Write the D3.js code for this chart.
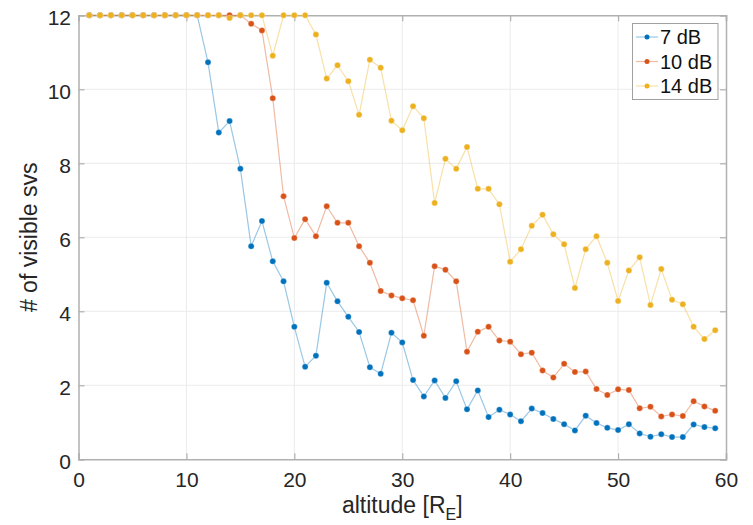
<!DOCTYPE html>
<html><head><meta charset="utf-8">
<script src="https://cdn.jsdelivr.net/npm/d3@7"></script>
<style>body{margin:0;background:#fff}svg{display:block}text{font-family:"Liberation Sans",Arial,sans-serif}</style>
</head><body><svg id="c" width="753" height="525"></svg>
<script>
const altitudes = d3.range(1, 60);
const db7 = [12,12,12,12,12,12,12,12,12,12,12,10.73,8.83,9.14,7.85,5.76,6.44,5.35,4.81,3.58,2.50,2.80,4.77,4.27,3.85,3.44,2.49,2.31,3.42,3.16,2.14,1.70,2.13,1.66,2.11,1.35,1.86,1.14,1.34,1.21,1.03,1.37,1.25,1.09,0.95,0.78,1.18,0.98,0.85,0.79,0.95,0.70,0.61,0.68,0.60,0.60,0.94,0.87,0.84];
const db10 = [12,12,12,12,12,12,12,12,12,12,12,12,12,12,12,11.77,11.59,9.76,7.11,5.98,6.49,6.03,6.84,6.39,6.39,5.76,5.31,4.55,4.43,4.35,4.30,3.34,5.22,5.12,4.81,2.91,3.45,3.58,3.21,3.18,2.84,2.88,2.40,2.21,2.58,2.36,2.37,1.90,1.74,1.89,1.87,1.38,1.42,1.16,1.21,1.17,1.57,1.43,1.31];
const db14 = [12,12,12,12,12,12,12,12,12,12,12,12,12,11.93,12,12,12,10.91,12,12,12,11.48,10.29,10.65,10.22,9.31,10.80,10.58,9.15,8.89,9.54,9.22,6.93,8.12,7.85,8.44,7.31,7.31,6.89,5.34,5.68,6.31,6.61,6.08,5.81,4.63,5.68,6.03,5.31,4.28,5.10,5.46,4.17,5.14,4.31,4.19,3.58,3.25,3.49];
const seriesNames = ["7 dB","10 dB","14 dB"];
const seriesColors = ["#0072BD","#D95319","#EDB120"];
const xTicks = [0,10,20,30,40,50,60];
const yTicks = [0,2,4,6,8,10,12];

const svg = d3.select("#c");
const L = 78.5, R = 726, T = 15.3, B = 459.3;
const x = d3.scaleLinear().domain([0,60]).range([L,R]);
const y = d3.scaleLinear().domain([0,12]).range([B,T]);
const axisCol = "#b0b0b0";

// grid
svg.append("g").selectAll("line").data(xTicks.slice(1,-1)).join("line")
  .attr("x1",d=>x(d)).attr("x2",d=>x(d)).attr("y1",T).attr("y2",B)
  .attr("stroke","#ebebeb").attr("stroke-width",1);
svg.append("g").selectAll("line").data(yTicks.slice(1,-1)).join("line")
  .attr("y1",d=>y(d)).attr("y2",d=>y(d)).attr("x1",L).attr("x2",R)
  .attr("stroke","#ebebeb").attr("stroke-width",1);

// axes
const gx = svg.append("g").attr("transform",`translate(0,${B})`)
  .call(d3.axisBottom(x).tickValues(xTicks).tickSize(-6).tickPadding(13).tickFormat(d3.format("d")));
const gy = svg.append("g").attr("transform",`translate(${L},0)`)
  .call(d3.axisLeft(y).tickValues(yTicks).tickSize(-6).tickPadding(7.5).tickFormat(d3.format("d")));
const gx2 = svg.append("g").attr("transform",`translate(0,${T})`)
  .call(d3.axisTop(x).tickValues(xTicks).tickSize(-6).tickFormat(""));
const gy2 = svg.append("g").attr("transform",`translate(${R},0)`)
  .call(d3.axisRight(y).tickValues(yTicks).tickSize(-6).tickFormat(""));
[gx,gy,gx2,gy2].forEach(g=>{
  g.select(".domain").attr("stroke",axisCol).attr("stroke-width",1.5);
  g.selectAll(".tick line").attr("stroke",axisCol).attr("stroke-width",1.2);
  g.selectAll(".tick text").attr("fill","#262626").attr("font-size",21);
});
gy.selectAll(".tick text").attr("dy","0.45em");

// series
const all = [db7, db10, db14];
const line = d3.line().x((d,i)=>x(altitudes[i])).y(d=>y(d));
all.forEach((s,k)=>{
  svg.append("path").datum(s).attr("d",line).attr("fill","none")
    .attr("stroke",seriesColors[k]).attr("stroke-opacity",0.4).attr("stroke-width",1.2);
});
all.forEach((s,k)=>{
  svg.append("g").selectAll("circle").data(s).join("circle")
    .attr("cx",(d,i)=>x(altitudes[i])).attr("cy",d=>y(d)).attr("r",3)
    .attr("fill",seriesColors[k]).attr("stroke","#fff").attr("stroke-opacity",0.5).attr("stroke-width",0.6);
});

// labels
const xl = svg.append("text").attr("x",(L+R)/2).attr("y",513).attr("text-anchor","middle")
  .attr("font-size",23).attr("fill","#262626");
xl.append("tspan").text("altitude [R");
xl.append("tspan").attr("dy",7).attr("font-size",16).text("E");
xl.append("tspan").attr("dy",-7).text("]");
svg.append("text").attr("transform",`translate(37,${(T+B)/2}) rotate(-90)`).attr("text-anchor","middle")
  .attr("font-size",23).attr("fill","#262626").text("# of visible svs");

// legend
const lg = svg.append("g");
lg.append("rect").attr("x",632.5).attr("y",23.5).attr("width",85.5).attr("height",76)
  .attr("fill","#fff").attr("stroke","#a0a0a0").attr("stroke-width",1);
seriesNames.forEach((n,k)=>{
  const yy = 37 + k*24.5;
  lg.append("line").attr("x1",636).attr("x2",658).attr("y1",yy).attr("y2",yy)
    .attr("stroke",seriesColors[k]).attr("stroke-opacity",0.4).attr("stroke-width",1.2);
  lg.append("circle").attr("cx",647).attr("cy",yy).attr("r",2.5).attr("fill",seriesColors[k]);
  lg.append("text").attr("x",660).attr("y",yy).attr("dy","0.36em").attr("font-size",20)
    .attr("fill","#111").text(n);
});
</script></body></html>
